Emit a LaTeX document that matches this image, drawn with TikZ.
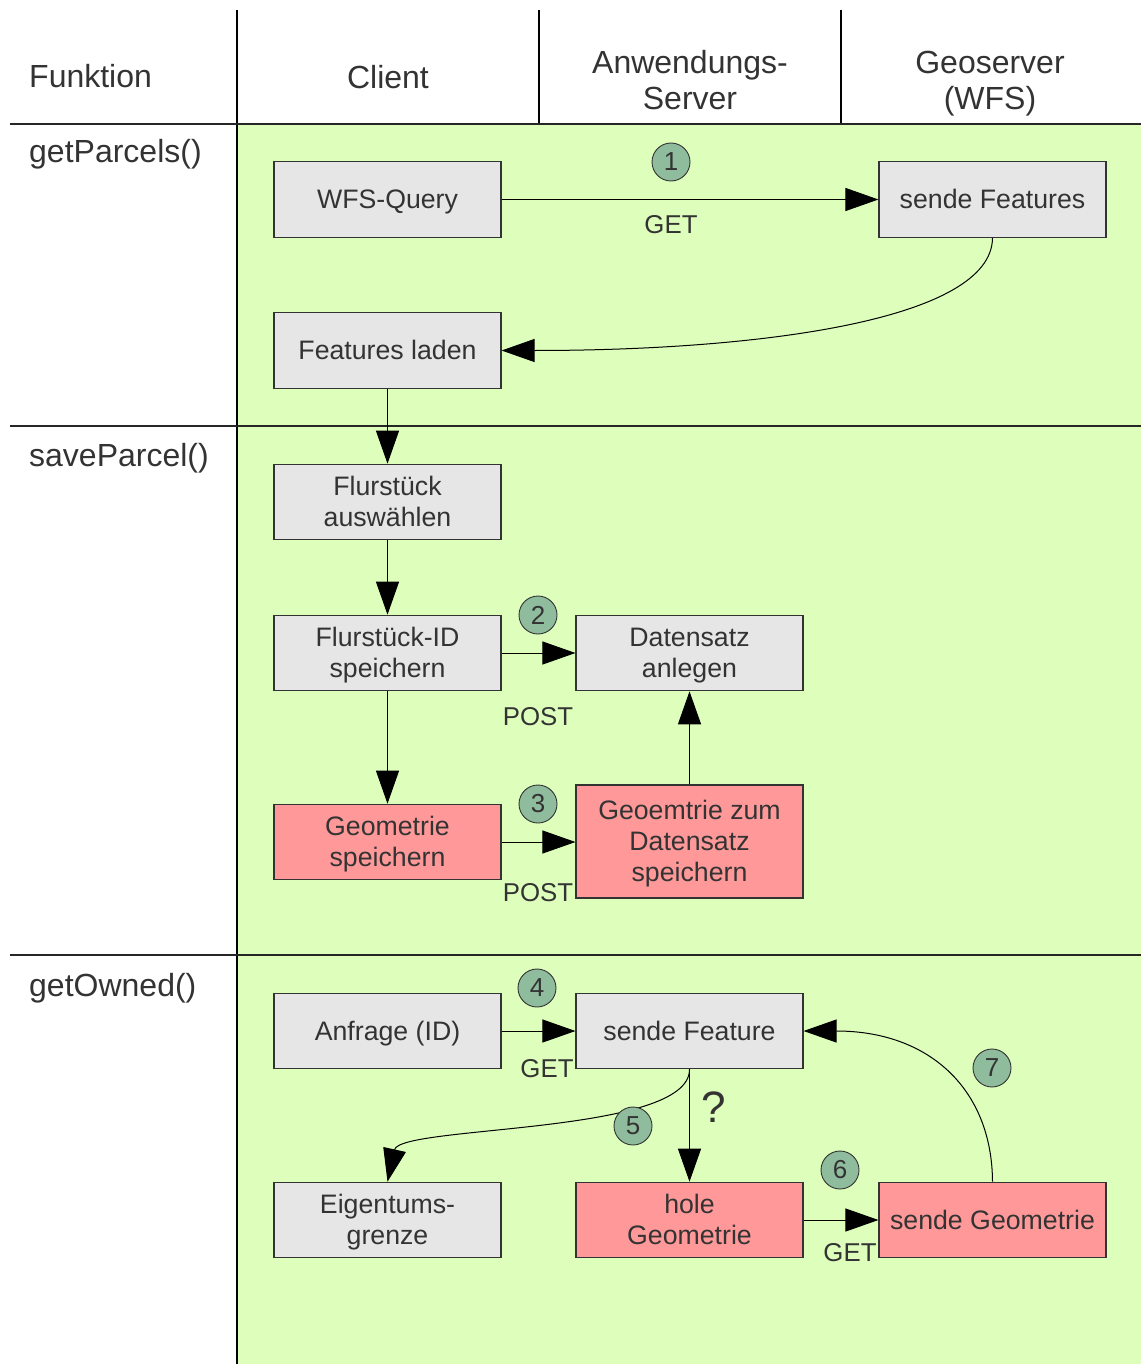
\documentclass[tikz,border=0pt]{standalone}
\usepackage{fontspec}
\setmainfont{Liberation Sans}
\usetikzlibrary{arrows.meta}
\definecolor{lane}{HTML}{DDFFBB}
\definecolor{boxgray}{HTML}{E6E6E6}
\definecolor{boxred}{HTML}{FF9999}
\definecolor{badge}{HTML}{8FBC9C}
\definecolor{ink}{HTML}{333333}
% line strut: full ascent and descent of the font, so every line box is alike
\newcommand\ls{\rule[-0.212em]{0pt}{1.117em}}
\begin{document}
\begin{tikzpicture}[x=1pt,y=-1pt,
  head/.style={text=ink,font=\fontsize{32}{36}\selectfont,align=center,inner sep=0},
  rowlabel/.style={text=ink,font=\fontsize{32}{36}\selectfont,anchor=base west,inner sep=0},
  stepbox/.style={draw=ink,line width=1.1pt,fill=boxgray,minimum width=227,minimum height=75.5,
    text=ink,font=\fontsize{26.7}{31}\selectfont,align=center,inner sep=0},
  redbox/.style={stepbox,fill=boxred},
  flow/.style={draw=black,line width=1pt,-{Triangle[length=33pt,width=23pt,fill=black]}},
  num/.style={circle,draw=black!80,line width=0.9pt,fill=badge,minimum size=38,inner sep=0,
    text=ink,font=\fontsize{26}{26}\selectfont},
  verb/.style={text=ink,font=\fontsize{25.8}{30}\selectfont,inner sep=0}]
\useasboundingbox (0,0) rectangle (1141,1364);

% swimlane background and grid
\fill[lane] (237,124) rectangle (1141,1364);
\draw[line width=1.6pt] (237,10) -- (237,1364);
\draw[line width=1.1pt] (539,10) -- (539,124);
\draw[line width=1.1pt] (841,10) -- (841,124);
\foreach \yy in {124,426,955}
  \draw[line width=1.1pt,draw=black!85] (10,\yy) -- (1141,\yy);

% column headers
\node[head,anchor=base west] (hF) at (29,88) {Funktion};
\node[head] (hC) at (388,77) {\ls Client};
\node[head] (hA) at (690,80) {\ls Anwendungs-\\\ls Server};
\node[head] (hG) at (990,80) {\ls Geoserver\\\ls (WFS)};

% row labels
\node[rowlabel] (r1) at (29,163) {getParcels()};
\node[rowlabel] (r2) at (29,466) {saveParcel()};
\node[rowlabel] (r3) at (29,996) {getOwned()};

% getParcels()
\node[stepbox] (wfs) at (387.5,199.5) {\ls WFS-Query};
\node[stepbox] (sfs) at (992.5,199.5) {\ls sende Features};
\node[stepbox] (fl)  at (387.5,350.5) {\ls Features laden};

% saveParcel()
\node[stepbox] (fa)  at (387.5,502) {\ls Flurstück\\\ls auswählen};
\node[stepbox] (fid) at (387.5,653) {\ls Flurstück-ID\\\ls speichern};
\node[stepbox] (ds)  at (689.5,653) {\ls Datensatz\\\ls anlegen};
\node[redbox]  (gs)  at (387.5,842) {\ls Geometrie\\\ls speichern};
\node[redbox,minimum height=113] (gz) at (689.5,841.5) {\ls Geoemtrie zum\\\ls Datensatz\\\ls speichern};

% getOwned()
\node[stepbox] (anf) at (387.5,1031) {\ls Anfrage (ID)};
\node[stepbox] (sf)  at (689.5,1031) {\ls sende Feature};
\node[stepbox] (eg)  at (387.5,1220) {\ls Eigentums-\\\ls grenze};
\node[redbox]  (hg)  at (689.5,1220) {\ls hole\\\ls Geometrie};
\node[redbox]  (sg)  at (992.5,1220) {\ls sende Geometrie};

% connectors
\draw[flow] (wfs.east) -- (sfs.west);
\draw[flow] (sfs.south) .. controls (992,320) and (760,350.5) .. (fl.east);
\draw[flow] (fl.south) -- (fa.north);
\draw[flow] (fa.south) -- (fid.north);
\draw[flow] (fid.east) -- (ds.west);
\draw[flow] (fid.south) -- (gs.north);
\draw[flow] (gs.east) -- (gs.east -| gz.west);
\draw[flow] (gz.north) -- (ds.south);
\draw[flow] (anf.east) -- (sf.west);
\draw[flow] (sf.south) -- (hg.north);
\draw[flow] (sf.south) .. controls (690,1135) and (400,1125) .. (eg.north);
\draw[flow] (hg.east) -- (sg.west);
\draw[flow] (sg.north) .. controls (992,1090) and (930,1031) .. (sf.east);

% step numbers and request types
\node[num] (n1) at (671,162) {1};
\node[verb] (v1) at (671,225) {GET};
\node[num] (n2) at (538,615) {2};
\node[verb] (v2) at (538,717) {POST};
\node[num] (n3) at (538,804) {3};
\node[verb] (v3) at (538,893) {POST};
\node[num] (n4) at (537,988) {4};
\node[verb] (v4) at (547,1069) {GET};
\node[num] (n5) at (633,1126) {5};
\node[num] (n6) at (840,1170) {6};
\node[verb] (v6) at (850,1253) {GET};
\node[num] (n7) at (992,1068) {7};
\node[text=ink,font=\fontsize{44}{44}\selectfont,inner sep=0] (q) at (714,1107) {?};
\end{tikzpicture}
\end{document}
